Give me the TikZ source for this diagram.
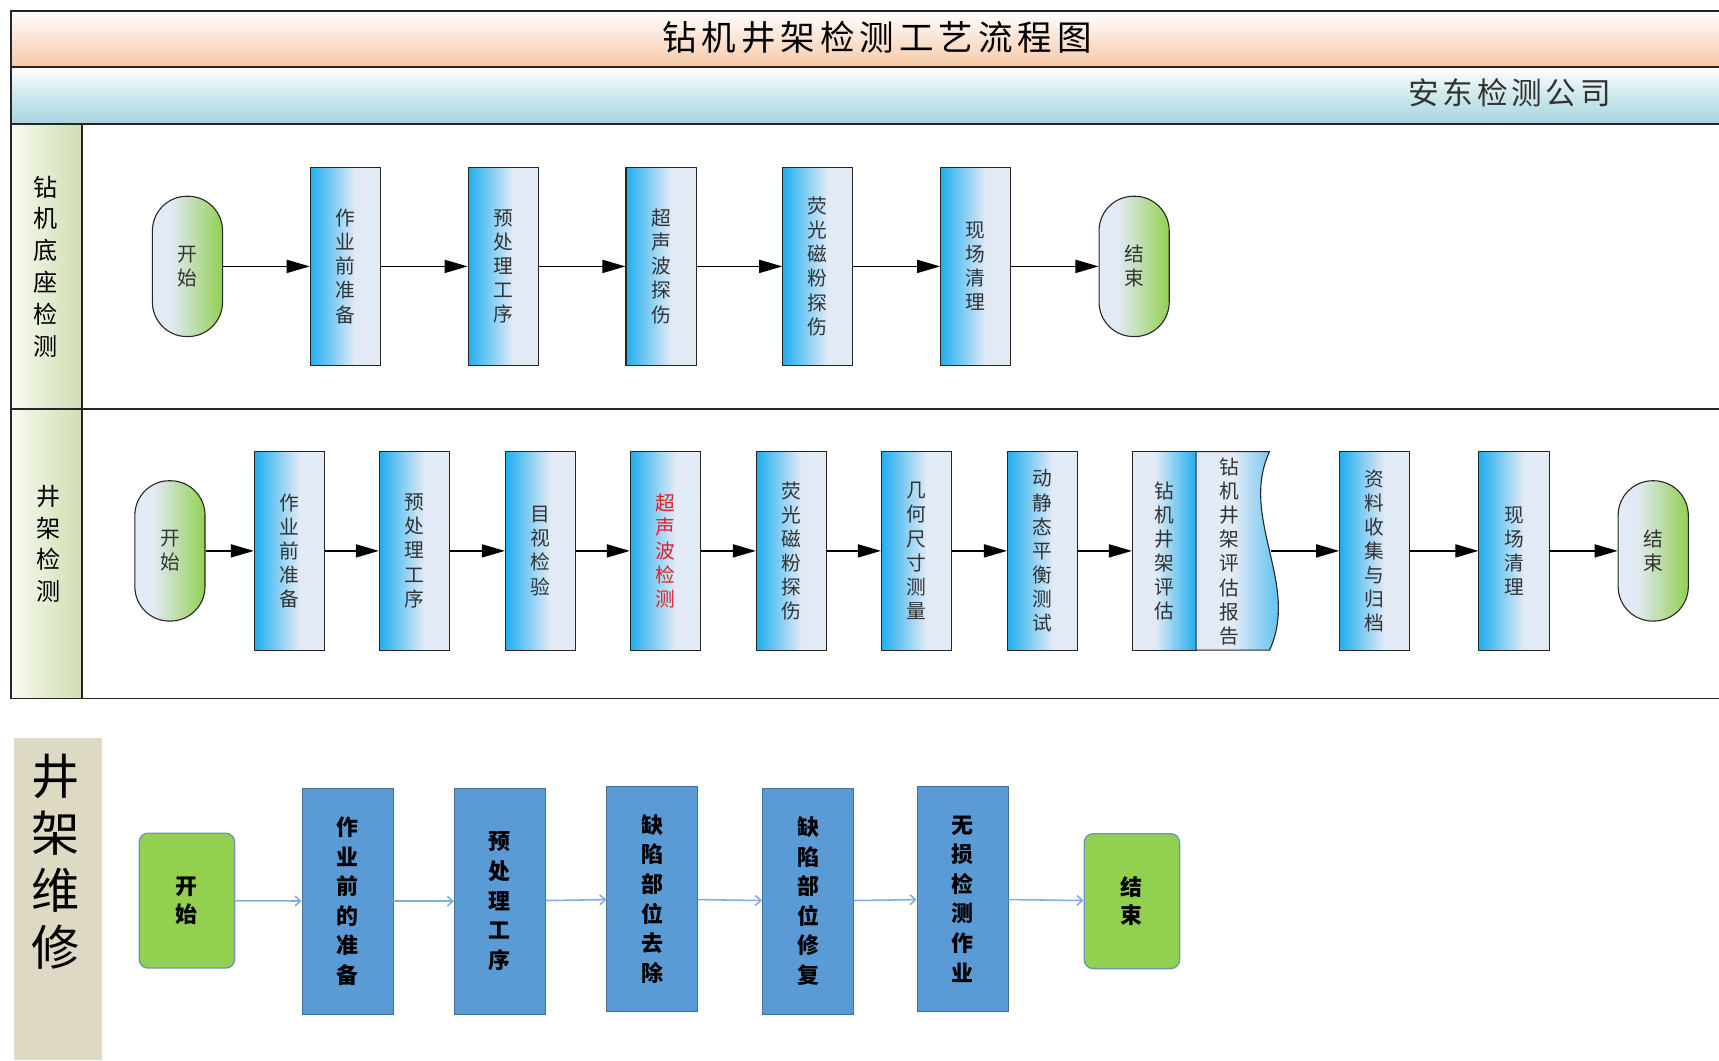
\documentclass[tikz,border=0pt]{standalone}
\usepackage{fontspec}
\setmainfont{Noto Sans CJK SC}
\usetikzlibrary{arrows.meta,calc}
\definecolor{bblue}{HTML}{1FAEEE}
\definecolor{bpale}{HTML}{E2EAF6}
\definecolor{tgreen}{HTML}{92D050}
\definecolor{peach}{HTML}{F7C8A6}
\definecolor{sky}{HTML}{A6D5DF}
\definecolor{lanel}{HTML}{F8FAF0}
\definecolor{laner}{HTML}{CFDDB2}
\definecolor{beige}{HTML}{DDD9C3}
\definecolor{mblue}{HTML}{5B9BD5}
\definecolor{mblueb}{HTML}{41719C}
\definecolor{arrblue}{HTML}{7FAEDD}
\definecolor{termb}{HTML}{6F93BC}
\definecolor{redtxt}{HTML}{E0202A}
\newcommand\tsp{\hspace{4.5pt}}
\newcommand\csp{\hspace{3.4pt}}
\pgfdeclarehorizontalshading{boxshade}{100bp}{color(0bp)=(bblue); color(25bp)=(bblue); color(57bp)=(bpale); color(100bp)=(bpale)}
\pgfdeclarehorizontalshading{boxshaderev}{100bp}{color(0bp)=(bpale); color(43bp)=(bpale); color(75bp)=(bblue); color(100bp)=(bblue)}
\pgfdeclarehorizontalshading{termshade}{100bp}{color(0bp)=(bpale); color(38bp)=(bpale); color(75bp)=(tgreen); color(100bp)=(tgreen)}
\tikzset{
  box/.style={draw=black!85, line width=1pt, shading=boxshade, minimum width=64pt, minimum height=181pt, inner sep=0pt, align=center, font=\fontsize{18}{22}\selectfont, text=black!80},
  boxrev/.style={box, shading=boxshaderev, minimum width=58pt},
  term/.style={draw=black!85, line width=1pt, shading=termshade, minimum width=64pt, minimum height=128pt, rounded corners=31.5pt, inner sep=0pt, align=center, font=\fontsize{18}{22}\selectfont, text=black!80},
  flow/.style={-{Triangle[length=21pt,width=12pt]}, line width=1.1pt, black},
  mbox/.style={draw=mblueb, fill=mblue, line width=0.8pt, minimum width=83pt, minimum height=206pt, inner sep=0pt, align=center, font=\bfseries\fontsize{20}{27}\selectfont},
  mterm/.style={draw=termb, fill=tgreen, line width=1.2pt, rounded corners=8pt, minimum width=87pt, minimum height=123pt, inner sep=0pt, align=center, font=\bfseries\fontsize{20}{26}\selectfont},
  mflow/.style={-{Straight Barb[length=5pt,width=9pt]}, arrblue, line width=1.4pt},
  lanelbl/.style={align=center, inner sep=0pt, font=\fontsize{22}{29}\selectfont},
  frameline/.style={line width=1.4pt, black!85},
}
\begin{document}
\begin{tikzpicture}[x=1pt,y=-1pt]
\useasboundingbox (0,0) rectangle (1568,967);
\clip (0,0) rectangle (1568,967);
% bars
\shade[top color=white, bottom color=peach] (10,10) rectangle (1575,61);
\shade[top color=white, bottom color=sky, middle color=sky!55!white] (10,61) rectangle (1575,113);
\shade[left color=lanel, right color=laner] (10,113) rectangle (75,637);
\node[font=\fontsize{31.5}{32}\selectfont] (title) at (800,34) {钻\tsp 机\tsp 井\tsp 架\tsp 检\tsp 测\tsp 工\tsp 艺\tsp 流\tsp 程\tsp 图};
\node[font=\fontsize{28}{28}\selectfont, text=black!80] (comp) at (1377,85) {安\csp 东\csp 检\csp 测\csp 公\csp 司};
% frame
\draw[frameline] (1575,10) -- (10,10) -- (10,637) -- (1575,637);
\draw[frameline] (10,61) -- (1575,61);
\draw[frameline] (10,113) -- (1575,113);
\draw[frameline] (10,373) -- (1575,373);
\draw[frameline] (75,113) -- (75,637);
\node[lanelbl] (lane1) at (42,243) {钻\\机\\底\\座\\检\\测};
\node[lanelbl] (lane2) at (44,496) {井\\架\\检\\测};
% lane 1
\node[term] (s1) at (171,243) {开\\始};
\node[box] (a1) at (315,243) {作\\业\\前\\准\\备};
\node[box] (a2) at (459,243) {预\\处\\理\\工\\序};
\node[box] (a3) at (603,243) {超\\声\\波\\探\\伤};
\node[box] (a4) at (746,243) {荧\\光\\磁\\粉\\探\\伤};
\node[box] (a5) at (890,243) {现\\场\\清\\理};
\node[term] (e1) at (1034.5,243) {结\\束};
\draw[flow] (s1) -- (a1);
\draw[flow] (a1) -- (a2);
\draw[flow] (a2) -- (a3);
\draw[flow] (a3) -- (a4);
\draw[flow] (a4) -- (a5);
\draw[flow] (a5) -- (e1);
% lane 2
\node[term] (s2) at (155,502.5) {开\\始};
\node[box] (b1) at (264,502.5) {作\\业\\前\\准\\备};
\node[box] (b2) at (378,502.5) {预\\处\\理\\工\\序};
\node[box] (b3) at (493,502.5) {目\\视\\检\\验};
\node[box, text=redtxt] (b4) at (607,502.5) {超\\声\\波\\检\\测};
\node[box] (b5) at (722,502.5) {荧\\光\\磁\\粉\\探\\伤};
\node[box] (b6) at (836,502.5) {几\\何\\尺\\寸\\测\\量};
\node[box] (b7) at (951,502.5) {动\\静\\态\\平\\衡\\测\\试};
\node[boxrev] (b8) at (1062,502.5) {钻\\机\\井\\架\\评\\估};
\shadedraw[shading=boxshaderev, draw=black!85, line width=1pt] (1091,412) -- (1158,412) .. controls (1130,472) and (1186,533) .. (1158,593) -- (1091,593) -- cycle;
\node[align=center, inner sep=0pt, font=\fontsize{18}{22}\selectfont, text=black!80] (rep) at (1121,503) {钻\\机\\井\\架\\评\\估\\报\\告};
\coordinate (repR) at (1159,502.5);
\node[box] (b9) at (1254,502.5) {资\\料\\收\\集\\与\\归\\档};
\node[box] (b10) at (1381,502.5) {现\\场\\清\\理};
\node[term] (e2) at (1508,502.5) {结\\束};
\draw[flow] (s2) -- (b1);
\draw[flow] (b1) -- (b2);
\draw[flow] (b2) -- (b3);
\draw[flow] (b3) -- (b4);
\draw[flow] (b4) -- (b5);
\draw[flow] (b5) -- (b6);
\draw[flow] (b6) -- (b7);
\draw[flow] (b7) -- (b8);
\draw[flow] (repR) -- (b9);
\draw[flow] (b9) -- (b10);
\draw[flow] (b10) -- (e2);
% lane 3
\fill[beige] (13,673) rectangle (93,967);
\node[align=center, inner sep=0pt, font=\fontsize{44}{52}\selectfont] (lane3) at (51,786) {井\\架\\维\\修};
\node[mterm] (m0) at (170.5,821.5) {开\\始};
\node[mbox] (m1) at (317,822) {作\\业\\前\\的\\准\\备};
\node[mbox] (m2) at (456,822) {预\\处\\理\\工\\序};
\node[mbox] (m3) at (595,820) {缺\\陷\\部\\位\\去\\除};
\node[mbox] (m4) at (737,822) {缺\\陷\\部\\位\\修\\复};
\node[mbox] (m5) at (878,820) {无\\损\\检\\测\\作\\业};
\node[mterm] (m6) at (1032.5,822) {结\\束};
\draw[mflow] (m0) -- (m1);
\draw[mflow] (m1) -- (m2);
\draw[mflow] (m2) -- (m3);
\draw[mflow] (m3) -- (m4);
\draw[mflow] (m4) -- (m5);
\draw[mflow] (m5) -- (m6);
\end{tikzpicture}
\end{document}
